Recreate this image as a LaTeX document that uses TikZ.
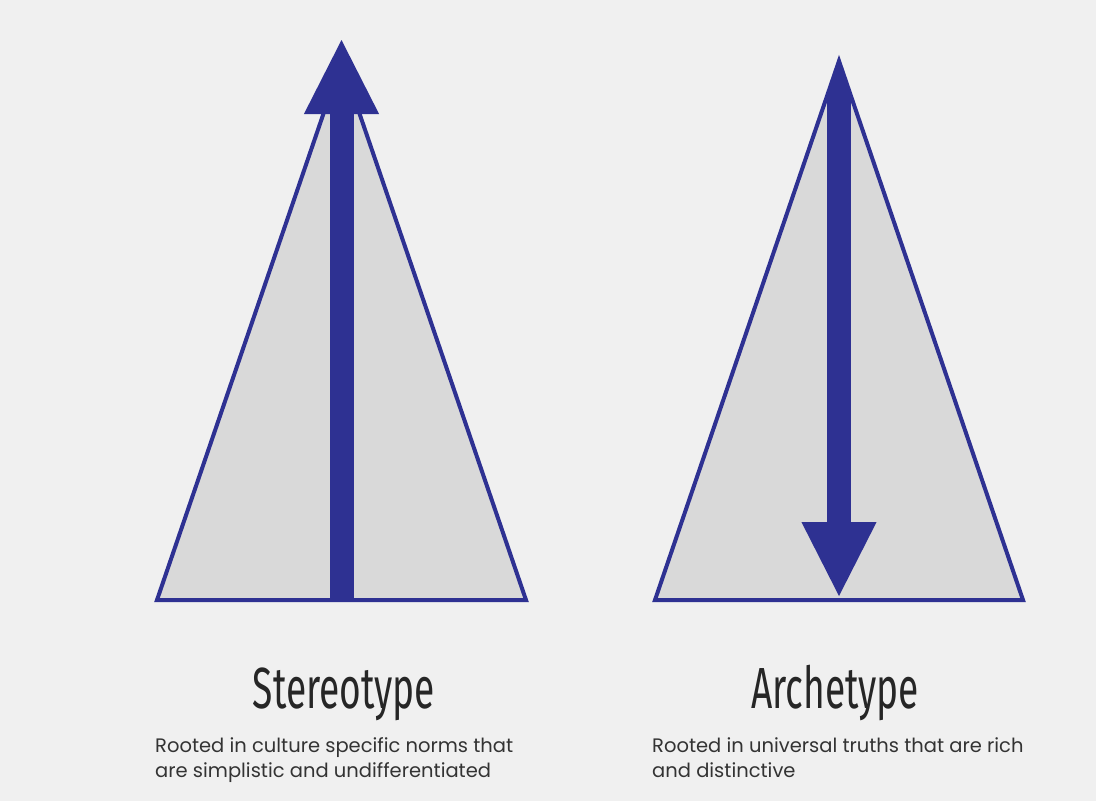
\documentclass[tikz,border=0pt]{standalone}
\usepackage{fontspec}
\setmainfont{Poppins}
\newfontfamily\titlefont{Fira Sans}
\usetikzlibrary{arrows.meta}
\definecolor{navy}{HTML}{2E3192}
\definecolor{pagegrey}{HTML}{F0F0F0}
\definecolor{conegrey}{HTML}{D9D9D9}

\begin{document}
\begin{tikzpicture}[x=1pt, y=-1pt,
  cone/.style={draw=navy, line width=4pt, line join=miter},
  shaft/.style={draw=navy, line width=24pt, -{Triangle[length=76pt, width=69pt]}},
  title/.style={font=\titlefont\fontsize{58}{58}\selectfont, text=black!85,
                anchor=base, inner sep=0pt},
  blurb/.style={font=\fontsize{19.5}{25}\selectfont, text=black!80,
                anchor=base west, align=left, inner sep=0pt}
]
  \fill[pagegrey] (0,0) rectangle (1096,801);

  % stereotype: arrow points up
  \coordinate (sL) at (157,600);
  \coordinate (sR) at (526,600);
  \coordinate (sA) at (341.5,61);
  \coordinate (sTip) at (341.5,38);
  \coordinate (sFoot) at (341.5,600);
  \draw[cone, fill=conegrey] (sL) -- (sR) -- (sA) -- cycle;
  \draw[shaft] (sFoot) -- (sTip);

  % archetype: arrow points down
  \coordinate (aL) at (655,600);
  \coordinate (aR) at (1023,600);
  \coordinate (aA) at (839,61);
  \coordinate (aTip) at (839,598);
  \fill[conegrey] (aL) -- (aR) -- (aA) -- cycle;
  \begin{scope}
    \clip (aL) -- (aR) -- (aA) -- cycle;
    \draw[shaft] (aA) -- (aTip);
  \end{scope}
  \draw[cone] (aL) -- (aR) -- (aA) -- cycle;

  \node[title] (stTitle) at (344,708) {\scalebox{0.64}[1]{Stereotype}};
  \node[title] (arTitle) at (835,708) {\scalebox{0.64}[1]{Archetype}};

  % base of a two-line node is its last line
  \node[blurb] (stText) at (155,777)
    {Rooted in culture specific norms that\\are simplistic and undifferentiated};
  \node[blurb] (arText) at (652,777)
    {Rooted in universal truths that are rich\\and distinctive};
\end{tikzpicture}
\end{document}
